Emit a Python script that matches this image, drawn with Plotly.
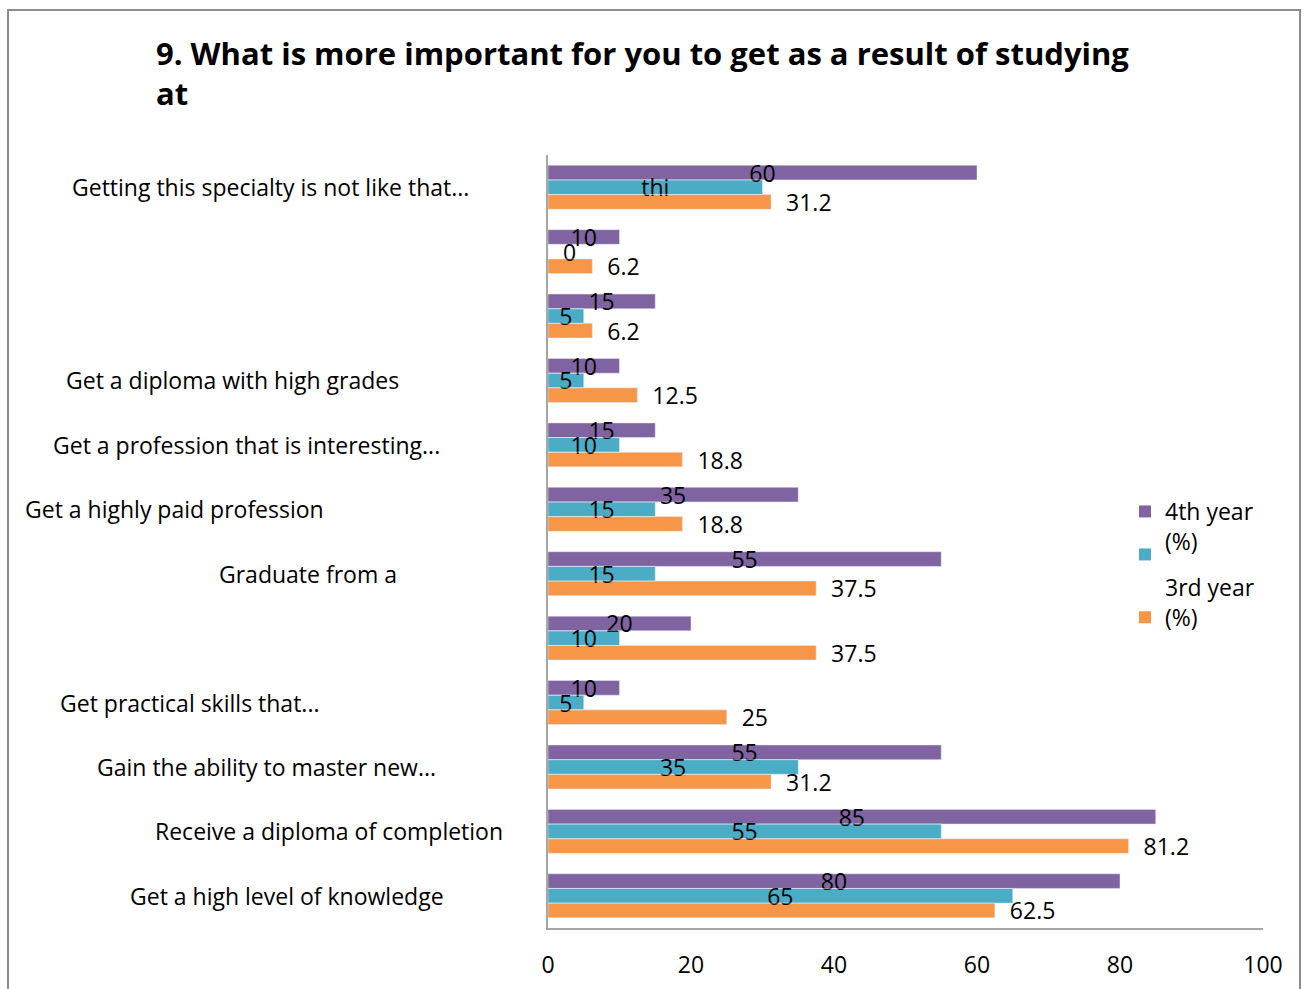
import plotly.graph_objects as go

# ---------------- data ----------------
categories = [
    "Getting this specialty is not like that...",
    "",
    "",
    "Get a diploma with high grades",
    "Get a profession that is interesting...",
    "Get a highly paid profession",
    "Graduate from a",
    "",
    "Get practical skills that...",
    "Gain the ability to master new...",
    "Receive a diploma of completion",
    "Get a high level of knowledge",
]
year4_values = [60, 10, 15, 10, 15, 35, 55, 20, 10, 55, 85, 80]
middle_values = [30, 0, 5, 5, 10, 15, 15, 10, 5, 35, 55, 65]
middle_labels = ["thi", "0", "5", "5", "10", "15", "15", "10", "5", "35", "55", "65"]
year3_values = [31.2, 6.2, 6.2, 12.5, 18.8, 18.8, 37.5, 37.5, 25, 31.2, 81.2, 62.5]
x_tick_values = [0, 20, 40, 60, 80, 100]

series_names = ["4th year<br>(%)", "", "3rd year<br>(%)"]
title_text = "9. What is more important for you to get as a result of studying<br>at"

# ---------------- styling ----------------
FONT = "Open Sans"
FS = 23
PURPLE = "#8064A2"
TEAL = "#4BACC6"
ORANGE = "#F79646"
AXIS = "#A6A6A6"
W, H = 1307, 989
ML, MR, MT, MB = 548, 44, 155, 61
PW, PH = W - ML - MR, H - MT - MB
# horizontal centre (pixels) of each category label, mimicking the original layout
label_center_px = [270, None, None, 232, 246, 175, 308, None, 189, 266, 329, 287]

pos = list(range(len(categories)))
NB = "\u00a0"

fig = go.Figure()

# bars (colour only)
for vals, name, col, lg in [(year4_values, series_names[0], PURPLE, "legend"),
                            (middle_values, series_names[1], TEAL, "legend2"),
                            (year3_values, series_names[2], ORANGE, "legend2")]:
    fig.add_trace(go.Bar(
        y=pos, x=vals, orientation="h", name=name, marker=dict(color=col, line=dict(width=0)),
        offsetgroup=col, legend=lg, hoverinfo="x+name",
    ))

label_font = dict(family=FONT, size=FS, color="black")

# transparent overlay bars carrying the data labels (drawn above all bars)
fig.add_trace(go.Bar(
    y=pos, x=year4_values, orientation="h", offsetgroup=PURPLE, showlegend=False,
    marker=dict(color="rgba(0,0,0,0)"), text=[str(v) for v in year4_values],
    textposition="inside", insidetextanchor="middle", constraintext="none", textangle=0,
    textfont=label_font, hoverinfo="skip",
))
fig.add_trace(go.Bar(
    y=pos, x=middle_values, orientation="h", offsetgroup=TEAL, showlegend=False,
    marker=dict(color="rgba(0,0,0,0)"),
    text=[(NB * 2 + t) if v == 0 else t for v, t in zip(middle_values, middle_labels)],
    textposition=["outside" if v == 0 else "inside" for v in middle_values],
    insidetextanchor="middle", constraintext="none", textangle=0,
    textfont=label_font, hoverinfo="skip",
))
fig.add_trace(go.Bar(
    y=pos, x=year3_values, orientation="h", offsetgroup=ORANGE, showlegend=False,
    marker=dict(color="rgba(0,0,0,0)"), text=[NB * 2 + str(v) for v in year3_values],
    textposition="outside", constraintext="none", cliponaxis=False, textangle=0,
    textfont=label_font, hoverinfo="skip",
))

# category labels
annotations = []
for p, lab, cx in zip(pos, categories, label_center_px):
    if not lab:
        continue
    annotations.append(dict(
        text=lab, xref="paper", yref="y", x=(cx - ML) / PW, y=p,
        xanchor="center", yanchor="middle", showarrow=False, font=label_font,
    ))

fig.update_layout(
    width=W, height=H,
    margin=dict(l=ML, r=MR, t=MT, b=MB, autoexpand=False),
    paper_bgcolor="white", plot_bgcolor="white",
    barmode="group", bargap=0.317, bargroupgap=0,
    font=dict(family=FONT, size=FS, color="black"),
    title=dict(text=title_text, x=156 / W, xref="container", xanchor="left",
               y=1 - 65 / H, yref="container", yanchor="top",
               font=dict(family=FONT, size=31, color="black", weight="bold")),
    xaxis=dict(range=[0, 100], tickvals=x_tick_values, showgrid=False, zeroline=False,
               showline=True, linecolor=AXIS, linewidth=2, ticks="outside", ticklen=15,
               tickcolor="rgba(0,0,0,0)", tickfont=dict(family=FONT, size=FS),
               automargin=False),
    yaxis=dict(range=[len(pos) - 0.5, -0.5], showticklabels=False, showgrid=False,
               zeroline=False, showline=True, linecolor=AXIS, linewidth=2, ticks="",
               automargin=False),
    legend=dict(x=(1125 - ML) / PW, y=(H - MB - 490) / PH, xanchor="left", yanchor="top",
                valign="top", bgcolor="rgba(0,0,0,0)", font=dict(family=FONT, size=FS)),
    legend2=dict(x=(1125 - ML) / PW, y=(H - MB - 533) / PH, xanchor="left", yanchor="top",
                 valign="bottom", bgcolor="rgba(0,0,0,0)", font=dict(family=FONT, size=FS),
                 traceorder="normal"),
    annotations=annotations,
    shapes=[dict(type="rect", xref="paper", yref="paper",
                 x0=(8 - ML) / PW, x1=(1300 - ML) / PW,
                 y0=-0.2, y1=(H - MB - 10) / PH,
                 line=dict(color="#8C8C8C", width=2), fillcolor="rgba(0,0,0,0)", layer="below")],
    showlegend=True,
)

fig.write_html("out.html", config={"displayModeBar": False},
               post_script="document.body.style.margin='0';")
